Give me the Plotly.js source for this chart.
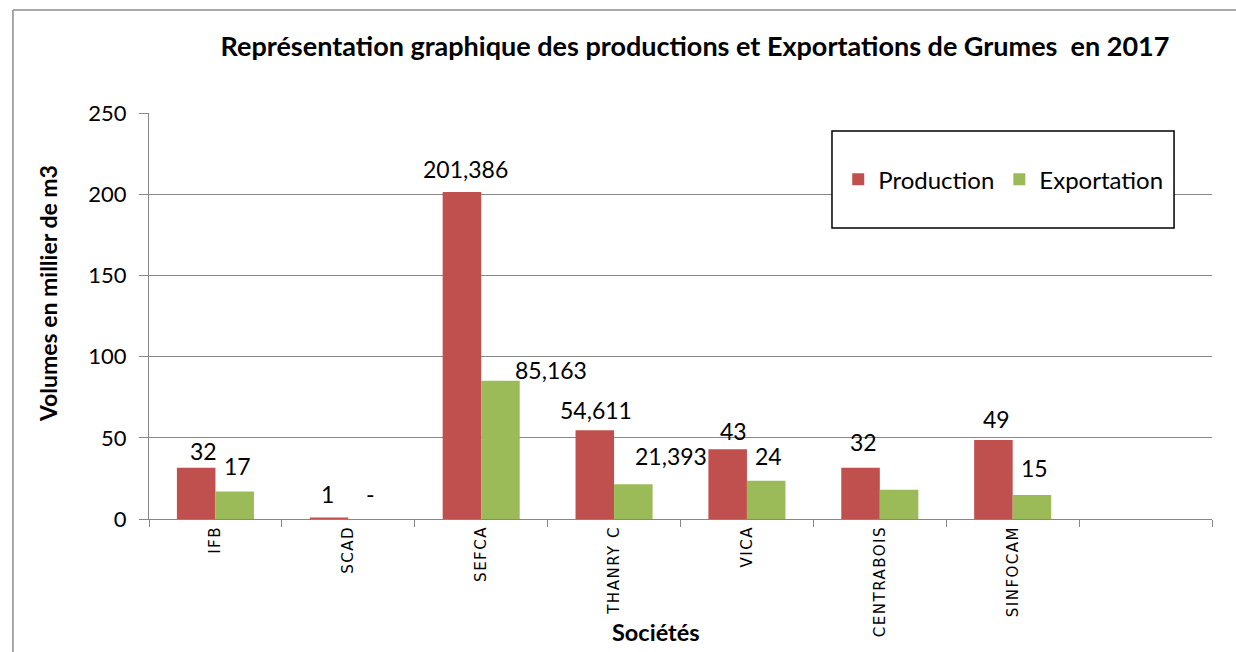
<!DOCTYPE html>
<html>
<head>
<meta charset="utf-8">
<script src="https://cdn.plot.ly/plotly-3.0.1.min.js"></script>
<style>
  html, body { margin: 0; padding: 0; background: #ffffff; }
  #chart { width: 1236px; height: 652px; }
  #chart .xtick text { letter-spacing: 1.5px; }
</style>
</head>
<body>
<div id="chart"></div>
<script>
// ---- Data ----
const categories = ["IFB", "SCAD", "SEFCA", "THANRY C", "VICA", "CENTRABOIS", "SINFOCAM", " "];
const production = [31.5, 1, 201.386, 54.611, 43, 31.5, 48.6, null];
const exportation = [17, 0, 85.163, 21.393, 23.5, 18, 14.8, null];
const productionLabels = ["32", "1", "201,386", "54,611", "43", "32", "49"];
const exportationLabels = ["17", "-", "85,163", "21,393", "24", "", "15"];
const yTicks = [0, 50, 100, 150, 200, 250];

// ---- Label placement tweaks (px) ----
const prodDx = [7, -2, 3, 1, 6, 3, 3];
const prodDy = [17, 23, 23, 20, 18, 26, 21];
const expDx = [3, 3, 51, 38, 3, 3, 3];
const expDy = [25, 25, 11, 28, 25, 25, 27];

const RED = "#C0504D";
const GREEN = "#9BBB59";
const GRID = "#878787";
const FONT = "Lato, 'Open Sans', sans-serif";

const traces = [
  { type: "bar", name: "Production", x: categories, y: production,
    marker: { color: RED }, hoverinfo: "x+y" },
  { type: "bar", name: "Exportation", x: categories, y: exportation,
    marker: { color: GREEN }, hoverinfo: "x+y" }
];

const barHalf = 19; // px offset from category centre to each bar centre
const annotations = [];
productionLabels.forEach((t, i) => {
  if (!t) return;
  annotations.push({ x: categories[i], y: production[i], xref: "x", yref: "y",
    text: t, showarrow: false, xanchor: "center", yanchor: "middle",
    xshift: -barHalf + prodDx[i], yshift: prodDy[i],
    font: { family: FONT, size: 23, color: "#000" } });
});
exportationLabels.forEach((t, i) => {
  if (!t) return;
  annotations.push({ x: categories[i], y: exportation[i], xref: "x", yref: "y",
    text: t, showarrow: false, xanchor: "center", yanchor: "middle",
    xshift: barHalf + expDx[i], yshift: expDy[i],
    font: { family: FONT, size: 23, color: "#000" } });
});
// axis titles
annotations.push({ xref: "paper", yref: "paper", x: -0.095, y: 0.554,
  text: "Volumes en millier de m3", textangle: -90, showarrow: false,
  xanchor: "center", yanchor: "middle",
  font: { family: FONT, size: 23, color: "#000", weight: "bold" } });
annotations.push({ xref: "paper", yref: "paper", x: 0.477, y: -0.278,
  text: "Sociétés", showarrow: false, xanchor: "center", yanchor: "middle",
  font: { family: FONT, size: 23.5, color: "#000", weight: "bold" } });

const layout = {
  width: 1236, height: 652,
  margin: { l: 149, r: 24, t: 113, b: 133, pad: 0 },
  paper_bgcolor: "#ffffff", plot_bgcolor: "#ffffff",
  title: { text: "Représentation graphique des productions et Exportations de Grumes\u00a0 en 2017",
    xref: "container", yref: "container", x: 0.5623, y: 0.928,
    xanchor: "center", yanchor: "middle",
    font: { family: FONT, size: 27, color: "#000", weight: "bold" } },
  barmode: "group", bargap: 0.42, bargroupgap: 0,
  showlegend: true,
  legend: { orientation: "h", x: 0.8036, y: 0.836, xanchor: "center", yanchor: "middle",
    bgcolor: "rgba(0,0,0,0)", borderwidth: 0, itemwidth: 30,
    font: { family: FONT, size: 24, color: "#000" } },
  xaxis: { type: "category", categoryorder: "array", categoryarray: categories,
    range: [-0.5, categories.length - 0.5],
    showline: true, linecolor: GRID, linewidth: 1,
    ticks: "outside", ticklen: 7, tickcolor: GRID, tickson: "boundaries",
    tickangle: -90, showgrid: false,
    tickfont: { family: "'DejaVu Sans', sans-serif", size: 15, color: "#000" } },
  yaxis: { range: [0, 250], tickvals: yTicks, ticktext: yTicks.map(String),
    showline: true, linecolor: GRID, linewidth: 1,
    ticks: "outside", ticklen: 9, tickcolor: GRID,
    showgrid: true, gridcolor: GRID, gridwidth: 1, zeroline: false,
    ticklabelstandoff: 8,
    tickfont: { family: FONT, size: 22, color: "#000" } },
  annotations: annotations,
  shapes: [
    // chart frame (top and left edges)
    { type: "line", xref: "paper", yref: "paper", x0: -0.128, x1: 1.05, y0: 1.2537, y1: 1.2537,
      line: { color: "#8c8c8c", width: 1.5 } },
    { type: "line", xref: "paper", yref: "paper", x0: -0.128, x1: -0.128, y0: 1.2537, y1: -0.35,
      line: { color: "#8c8c8c", width: 1.5 } },
    // legend box
    { type: "rect", xref: "paper", yref: "paper", x0: 0.6425, x1: 0.9643, y0: 0.7167, y1: 0.9557,
      fillcolor: "#ffffff", line: { color: "#000000", width: 1.5 }, layer: "above" }
  ]
};

Plotly.newPlot("chart", traces, layout, { displayModeBar: false, staticPlot: true });
</script>
</body>
</html>
